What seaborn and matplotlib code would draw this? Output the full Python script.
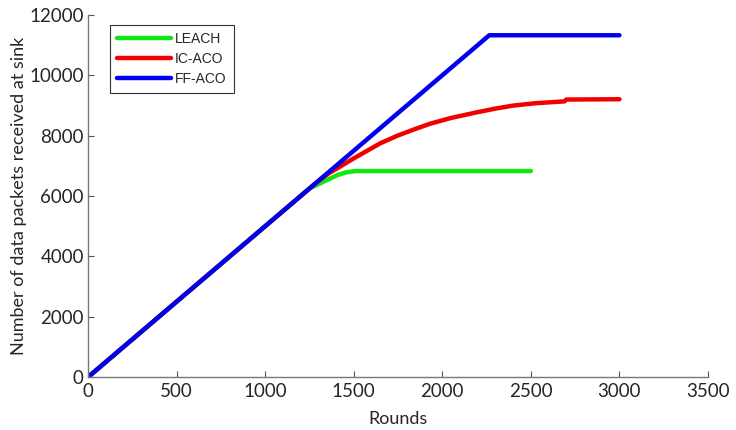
import pandas as pd
import matplotlib
matplotlib.use('Agg')
import matplotlib.pyplot as plt
import seaborn as sns

# values
leach_rounds = [0, 1250, 1330, 1410, 1460, 1510, 2500]
leach_packets = [0, 6250, 6480, 6700, 6790, 6830, 6830]

icaco_rounds = [0, 1290, 1360, 1424, 1500, 1575, 1650, 1750, 1850, 1932, 2050, 2198,
                2300, 2401, 2530, 2667, 2690, 2700, 3000]
icaco_packets = [0, 6450, 6760, 6980, 7250, 7500, 7750, 8010, 8230, 8400, 8590, 8780,
                 8900, 9000, 9080, 9130, 9140, 9200, 9210]

ffaco_rounds = [0, 2265, 3000]
ffaco_packets = [0, 11330, 11330]

protocols = ['LEACH', 'IC-ACO', 'FF-ACO']
colors = {'LEACH': '#10e810', 'IC-ACO': '#f20000', 'FF-ACO': '#0000ee'}

df = pd.concat([
    pd.DataFrame({'Rounds': leach_rounds, 'Packets': leach_packets, 'Protocol': 'LEACH'}),
    pd.DataFrame({'Rounds': icaco_rounds, 'Packets': icaco_packets, 'Protocol': 'IC-ACO'}),
    pd.DataFrame({'Rounds': ffaco_rounds, 'Packets': ffaco_packets, 'Protocol': 'FF-ACO'}),
])

sns.set_style('ticks')
plt.rcParams['font.family'] = ['Lato', 'DejaVu Sans']

fig, ax = plt.subplots(figsize=(7.36, 4.30), dpi=100)
fig.subplots_adjust(left=0.1196, right=0.962, top=0.965, bottom=0.123)

sns.lineplot(data=df, x='Rounds', y='Packets', hue='Protocol', hue_order=protocols,
             palette=colors, linewidth=3.2, sort=False, estimator=None, ax=ax)

ax.set_xlim(0, 3500)
ax.set_ylim(0, 12000)
ax.set_xticks(range(0, 3501, 500))
ax.set_yticks(range(0, 12001, 2000))
ax.set_xlabel('Rounds', fontsize=13, labelpad=8)
ax.set_ylabel('Number of data packets received at sink', fontsize=13, labelpad=2)
ax.tick_params(direction='in', length=4, width=0.8, color='#555555', labelsize=13.5)
ax.tick_params(axis='x', pad=4)
ax.tick_params(axis='y', pad=3)
sns.despine(ax=ax)
for s in ['left', 'bottom']:
    ax.spines[s].set_color('#777777')
    ax.spines[s].set_linewidth(1.0)

leg = ax.legend(loc='upper left', bbox_to_anchor=(0.035, 0.972), borderaxespad=0,
                frameon=True, fancybox=False, edgecolor='black', handlelength=3.9,
                handletextpad=0.3, borderpad=0.5, labelspacing=0.42,
                prop={'family': 'Liberation Sans', 'size': 10})
leg.get_frame().set_linewidth(0.8)

plt.savefig('out.png', dpi=100)
